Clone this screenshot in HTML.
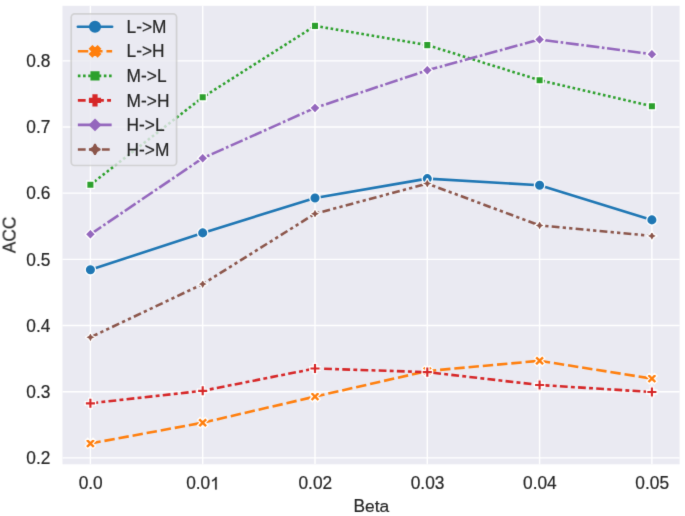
<!DOCTYPE html>
<html><head><meta charset="utf-8"><title>ACC vs Beta</title><style>html,body{margin:0;padding:0;background:#fff;overflow:hidden}svg{display:block}text{font-family:"Liberation Sans",sans-serif;stroke:#262626;stroke-width:0.2px}.g1{stroke:#262626;stroke-width:23.6px}</style></head><body>
<svg width="685" height="516" viewBox="0 0 685 516" font-family="Liberation Sans, sans-serif" font-size="17.33" fill="#262626">
<defs><clipPath id="ax"><rect x="62.5" y="5.8" width="617.1" height="458.5"/></clipPath>
<filter id="soft" x="0" y="0" width="685" height="516" filterUnits="userSpaceOnUse" color-interpolation-filters="sRGB"><feConvolveMatrix order="3" kernelMatrix="0.01 0.08 0.01 0.08 0.64 0.08 0.01 0.08 0.01" edgeMode="duplicate" preserveAlpha="true"/></filter></defs>
<g filter="url(#soft)">
<rect width="685" height="516" fill="#fff"/>
<rect x="62.5" y="5.8" width="617.1" height="458.5" fill="#eaeaf2"/>
<path d="M90.4 464.3V5.8M202.7 464.3V5.8M315 464.3V5.8M427.3 464.3V5.8M539.6 464.3V5.8M651.9 464.3V5.8M62.5 457.85H679.6M62.5 391.68H679.6M62.5 325.51H679.6M62.5 259.34H679.6M62.5 193.17H679.6M62.5 127H679.6M62.5 60.83H679.6" stroke="#fff" stroke-width="1.39" stroke-linecap="round" fill="none" clip-path="url(#ax)"/>
<path d="M90.4 269.8 L202.7 232.9 L315 197.95 L427.3 178.6 L539.6 185.2 L651.9 219.9" fill="none" stroke="#1f77b4" stroke-width="2.6" stroke-linecap="round" stroke-linejoin="round" clip-path="url(#ax)"/>
<circle cx="90.4" cy="269.8" r="5.2" fill="#1f77b4" stroke="#fff" stroke-width="1.3"/>
<circle cx="202.7" cy="232.9" r="5.2" fill="#1f77b4" stroke="#fff" stroke-width="1.3"/>
<circle cx="315" cy="197.95" r="5.2" fill="#1f77b4" stroke="#fff" stroke-width="1.3"/>
<circle cx="427.3" cy="178.6" r="5.2" fill="#1f77b4" stroke="#fff" stroke-width="1.3"/>
<circle cx="539.6" cy="185.2" r="5.2" fill="#1f77b4" stroke="#fff" stroke-width="1.3"/>
<circle cx="651.9" cy="219.9" r="5.2" fill="#1f77b4" stroke="#fff" stroke-width="1.3"/>
<path d="M90.4 443.45 L202.7 422.7 L315 396.6 L427.3 371 L539.6 360.8 L651.9 378.6" fill="none" stroke="#ff7f0e" stroke-width="2.6" stroke-linecap="butt" stroke-linejoin="round" stroke-dasharray="10.4,3.9" clip-path="url(#ax)"/>
<path d="M87.8 438.25 L90.4 440.85 L93 438.25 L95.6 440.85 L93 443.45 L95.6 446.05 L93 448.65 L90.4 446.05 L87.8 448.65 L85.2 446.05 L87.8 443.45 L85.2 440.85Z" fill="#ff7f0e" stroke="#fff" stroke-width="1.3" stroke-linejoin="miter"/>
<path d="M200.1 417.5 L202.7 420.1 L205.3 417.5 L207.9 420.1 L205.3 422.7 L207.9 425.3 L205.3 427.9 L202.7 425.3 L200.1 427.9 L197.5 425.3 L200.1 422.7 L197.5 420.1Z" fill="#ff7f0e" stroke="#fff" stroke-width="1.3" stroke-linejoin="miter"/>
<path d="M312.4 391.4 L315 394 L317.6 391.4 L320.2 394 L317.6 396.6 L320.2 399.2 L317.6 401.8 L315 399.2 L312.4 401.8 L309.8 399.2 L312.4 396.6 L309.8 394Z" fill="#ff7f0e" stroke="#fff" stroke-width="1.3" stroke-linejoin="miter"/>
<path d="M424.7 365.8 L427.3 368.4 L429.9 365.8 L432.5 368.4 L429.9 371 L432.5 373.6 L429.9 376.2 L427.3 373.6 L424.7 376.2 L422.1 373.6 L424.7 371 L422.1 368.4Z" fill="#ff7f0e" stroke="#fff" stroke-width="1.3" stroke-linejoin="miter"/>
<path d="M537 355.6 L539.6 358.2 L542.2 355.6 L544.8 358.2 L542.2 360.8 L544.8 363.4 L542.2 366 L539.6 363.4 L537 366 L534.4 363.4 L537 360.8 L534.4 358.2Z" fill="#ff7f0e" stroke="#fff" stroke-width="1.3" stroke-linejoin="miter"/>
<path d="M649.3 373.4 L651.9 376 L654.5 373.4 L657.1 376 L654.5 378.6 L657.1 381.2 L654.5 383.8 L651.9 381.2 L649.3 383.8 L646.7 381.2 L649.3 378.6 L646.7 376Z" fill="#ff7f0e" stroke="#fff" stroke-width="1.3" stroke-linejoin="miter"/>
<path d="M90.4 184.7 L202.7 97.3 L315 25.9 L427.3 45.1 L539.6 80.2 L651.9 106.2" fill="none" stroke="#2ca02c" stroke-width="2.6" stroke-linecap="butt" stroke-linejoin="round" stroke-dasharray="2.6,2.6" clip-path="url(#ax)"/>
<path d="M86.72 181.02 L94.08 181.02 L94.08 188.38 L86.72 188.38Z" fill="#2ca02c" stroke="#fff" stroke-width="1.3" stroke-linejoin="miter"/>
<path d="M199.02 93.62 L206.38 93.62 L206.38 100.98 L199.02 100.98Z" fill="#2ca02c" stroke="#fff" stroke-width="1.3" stroke-linejoin="miter"/>
<path d="M311.32 22.22 L318.68 22.22 L318.68 29.58 L311.32 29.58Z" fill="#2ca02c" stroke="#fff" stroke-width="1.3" stroke-linejoin="miter"/>
<path d="M423.62 41.42 L430.98 41.42 L430.98 48.78 L423.62 48.78Z" fill="#2ca02c" stroke="#fff" stroke-width="1.3" stroke-linejoin="miter"/>
<path d="M535.92 76.52 L543.28 76.52 L543.28 83.88 L535.92 83.88Z" fill="#2ca02c" stroke="#fff" stroke-width="1.3" stroke-linejoin="miter"/>
<path d="M648.22 102.52 L655.58 102.52 L655.58 109.88 L648.22 109.88Z" fill="#2ca02c" stroke="#fff" stroke-width="1.3" stroke-linejoin="miter"/>
<path d="M90.4 403.3 L202.7 390.8 L315 368.5 L427.3 372.1 L539.6 385 L651.9 392" fill="none" stroke="#d62728" stroke-width="2.6" stroke-linecap="butt" stroke-linejoin="round" stroke-dasharray="7.8,3.25,3.9,3.25" clip-path="url(#ax)"/>
<path d="M88.67 398.1 L92.13 398.1 L92.13 401.57 L95.6 401.57 L95.6 405.03 L92.13 405.03 L92.13 408.5 L88.67 408.5 L88.67 405.03 L85.2 405.03 L85.2 401.57 L88.67 401.57Z" fill="#d62728" stroke="#fff" stroke-width="1.3" stroke-linejoin="miter"/>
<path d="M200.97 385.6 L204.43 385.6 L204.43 389.07 L207.9 389.07 L207.9 392.53 L204.43 392.53 L204.43 396 L200.97 396 L200.97 392.53 L197.5 392.53 L197.5 389.07 L200.97 389.07Z" fill="#d62728" stroke="#fff" stroke-width="1.3" stroke-linejoin="miter"/>
<path d="M313.27 363.3 L316.73 363.3 L316.73 366.77 L320.2 366.77 L320.2 370.23 L316.73 370.23 L316.73 373.7 L313.27 373.7 L313.27 370.23 L309.8 370.23 L309.8 366.77 L313.27 366.77Z" fill="#d62728" stroke="#fff" stroke-width="1.3" stroke-linejoin="miter"/>
<path d="M425.57 366.9 L429.03 366.9 L429.03 370.37 L432.5 370.37 L432.5 373.83 L429.03 373.83 L429.03 377.3 L425.57 377.3 L425.57 373.83 L422.1 373.83 L422.1 370.37 L425.57 370.37Z" fill="#d62728" stroke="#fff" stroke-width="1.3" stroke-linejoin="miter"/>
<path d="M537.87 379.8 L541.33 379.8 L541.33 383.27 L544.8 383.27 L544.8 386.73 L541.33 386.73 L541.33 390.2 L537.87 390.2 L537.87 386.73 L534.4 386.73 L534.4 383.27 L537.87 383.27Z" fill="#d62728" stroke="#fff" stroke-width="1.3" stroke-linejoin="miter"/>
<path d="M650.17 386.8 L653.63 386.8 L653.63 390.27 L657.1 390.27 L657.1 393.73 L653.63 393.73 L653.63 397.2 L650.17 397.2 L650.17 393.73 L646.7 393.73 L646.7 390.27 L650.17 390.27Z" fill="#d62728" stroke="#fff" stroke-width="1.3" stroke-linejoin="miter"/>
<path d="M90.4 234.3 L202.7 158.2 L315 107.9 L427.3 70.3 L539.6 39.5 L651.9 54.2" fill="none" stroke="#9467bd" stroke-width="2.6" stroke-linecap="butt" stroke-linejoin="round" stroke-dasharray="13,2.6,2.6,2.6" clip-path="url(#ax)"/>
<path d="M90.4 229.1 L95.6 234.3 L90.4 239.5 L85.2 234.3Z" fill="#9467bd" stroke="#fff" stroke-width="1.3" stroke-linejoin="miter"/>
<path d="M202.7 153 L207.9 158.2 L202.7 163.4 L197.5 158.2Z" fill="#9467bd" stroke="#fff" stroke-width="1.3" stroke-linejoin="miter"/>
<path d="M315 102.7 L320.2 107.9 L315 113.1 L309.8 107.9Z" fill="#9467bd" stroke="#fff" stroke-width="1.3" stroke-linejoin="miter"/>
<path d="M427.3 65.1 L432.5 70.3 L427.3 75.5 L422.1 70.3Z" fill="#9467bd" stroke="#fff" stroke-width="1.3" stroke-linejoin="miter"/>
<path d="M539.6 34.3 L544.8 39.5 L539.6 44.7 L534.4 39.5Z" fill="#9467bd" stroke="#fff" stroke-width="1.3" stroke-linejoin="miter"/>
<path d="M651.9 49 L657.1 54.2 L651.9 59.4 L646.7 54.2Z" fill="#9467bd" stroke="#fff" stroke-width="1.3" stroke-linejoin="miter"/>
<path d="M90.4 337.3 L202.7 284.1 L315 213.7 L427.3 183.6 L539.6 225.4 L651.9 235.9" fill="none" stroke="#8c564b" stroke-width="2.6" stroke-linecap="butt" stroke-linejoin="round" stroke-dasharray="7.8,3.25,3.25,3.25,3.25,3.25" clip-path="url(#ax)"/>
<path d="M90.4 332.1 L88.56 335.46 L85.2 337.3 L88.56 339.14 L90.4 342.5 L92.24 339.14 L95.6 337.3 L92.24 335.46Z" fill="#8c564b" stroke="#fff" stroke-width="1.3" stroke-linejoin="bevel"/>
<path d="M202.7 278.9 L200.86 282.26 L197.5 284.1 L200.86 285.94 L202.7 289.3 L204.54 285.94 L207.9 284.1 L204.54 282.26Z" fill="#8c564b" stroke="#fff" stroke-width="1.3" stroke-linejoin="bevel"/>
<path d="M315 208.5 L313.16 211.86 L309.8 213.7 L313.16 215.54 L315 218.9 L316.84 215.54 L320.2 213.7 L316.84 211.86Z" fill="#8c564b" stroke="#fff" stroke-width="1.3" stroke-linejoin="bevel"/>
<path d="M427.3 178.4 L425.46 181.76 L422.1 183.6 L425.46 185.44 L427.3 188.8 L429.14 185.44 L432.5 183.6 L429.14 181.76Z" fill="#8c564b" stroke="#fff" stroke-width="1.3" stroke-linejoin="bevel"/>
<path d="M539.6 220.2 L537.76 223.56 L534.4 225.4 L537.76 227.24 L539.6 230.6 L541.44 227.24 L544.8 225.4 L541.44 223.56Z" fill="#8c564b" stroke="#fff" stroke-width="1.3" stroke-linejoin="bevel"/>
<path d="M651.9 230.7 L650.06 234.06 L646.7 235.9 L650.06 237.74 L651.9 241.1 L653.74 237.74 L657.1 235.9 L653.74 234.06Z" fill="#8c564b" stroke="#fff" stroke-width="1.3" stroke-linejoin="bevel"/>
<rect x="71.2" y="13.8" width="105.4" height="151.7" rx="3.47" fill="#eaeaf2" stroke="#cccccc" stroke-width="1.73" opacity="0.8"/>
<path d="M77.85 26.78H112.15" fill="none" stroke="#1f77b4" stroke-width="2.6" stroke-linecap="round"/>
<circle cx="95" cy="26.78" r="5.2" fill="#1f77b4" stroke="#1f77b4" stroke-width="1.73"/>
<text transform="translate(126.6 32.75) scale(1 1.0405)">L-&gt;M</text>
<path d="M77.85 51.31H112.15" fill="none" stroke="#ff7f0e" stroke-width="2.6" stroke-linecap="butt" stroke-dasharray="10.4,3.9"/>
<path d="M92.4 46.11 L95 48.71 L97.6 46.11 L100.2 48.71 L97.6 51.31 L100.2 53.91 L97.6 56.51 L95 53.91 L92.4 56.51 L89.8 53.91 L92.4 51.31 L89.8 48.71Z" fill="#ff7f0e" stroke="#ff7f0e" stroke-width="1.73" stroke-linejoin="miter"/>
<text transform="translate(126.6 57.35) scale(1 1.0405)">L-&gt;H</text>
<path d="M77.85 75.84H112.15" fill="none" stroke="#2ca02c" stroke-width="2.6" stroke-linecap="butt" stroke-dasharray="2.6,2.6"/>
<path d="M91.32 72.16 L98.68 72.16 L98.68 79.52 L91.32 79.52Z" fill="#2ca02c" stroke="#2ca02c" stroke-width="1.73" stroke-linejoin="miter"/>
<text transform="translate(126.6 81.95) scale(1 1.0405)">M-&gt;L</text>
<path d="M77.85 100.37H112.15" fill="none" stroke="#d62728" stroke-width="2.6" stroke-linecap="butt" stroke-dasharray="7.8,3.25,3.9,3.25"/>
<path d="M93.27 95.17 L96.73 95.17 L96.73 98.64 L100.2 98.64 L100.2 102.1 L96.73 102.1 L96.73 105.57 L93.27 105.57 L93.27 102.1 L89.8 102.1 L89.8 98.64 L93.27 98.64Z" fill="#d62728" stroke="#d62728" stroke-width="1.73" stroke-linejoin="miter"/>
<text transform="translate(126.6 106.55) scale(1 1.0405)">M-&gt;H</text>
<path d="M77.85 124.9H112.15" fill="none" stroke="#9467bd" stroke-width="2.6" stroke-linecap="butt" stroke-dasharray="13,2.6,2.6,2.6"/>
<path d="M95 119.7 L100.2 124.9 L95 130.1 L89.8 124.9Z" fill="#9467bd" stroke="#9467bd" stroke-width="1.73" stroke-linejoin="miter"/>
<text transform="translate(126.6 131.15) scale(1 1.0405)">H-&gt;L</text>
<path d="M77.85 149.43H112.15" fill="none" stroke="#8c564b" stroke-width="2.6" stroke-linecap="butt" stroke-dasharray="7.8,3.25,3.25,3.25,3.25,3.25"/>
<path d="M95 144.23 L93.16 147.59 L89.8 149.43 L93.16 151.27 L95 154.63 L96.84 151.27 L100.2 149.43 L96.84 147.59Z" fill="#8c564b" stroke="#8c564b" stroke-width="1.73" stroke-linejoin="bevel"/>
<text transform="translate(126.6 155.75) scale(1 1.0405)">H-&gt;M</text>
<text transform="translate(90.7 489.45) scale(1 1.0405)" text-anchor="middle">0.0</text>
<text transform="translate(186.13 489.45) scale(1 1.0405)">0.0</text>
<path transform="translate(210.23 489.45) scale(0.008464 -0.008464)" d="M763 0H583V1147Q518 1085 412.5 1023Q307 961 223 930V1104Q374 1175 487 1274Q600 1373 647 1466H763Z" class="g1"/>
<text transform="translate(315.3 489.45) scale(1 1.0405)" text-anchor="middle">0.02</text>
<text transform="translate(427.6 489.45) scale(1 1.0405)" text-anchor="middle">0.03</text>
<text transform="translate(539.9 489.45) scale(1 1.0405)" text-anchor="middle">0.04</text>
<text transform="translate(652.2 489.45) scale(1 1.0405)" text-anchor="middle">0.05</text>
<text transform="translate(50.45 464.13) scale(1 1.0405)" text-anchor="end">0.2</text>
<text transform="translate(50.45 397.96) scale(1 1.0405)" text-anchor="end">0.3</text>
<text transform="translate(50.45 331.79) scale(1 1.0405)" text-anchor="end">0.4</text>
<text transform="translate(50.45 265.62) scale(1 1.0405)" text-anchor="end">0.5</text>
<text transform="translate(50.45 199.45) scale(1 1.0405)" text-anchor="end">0.6</text>
<text transform="translate(50.45 133.28) scale(1 1.0405)" text-anchor="end">0.7</text>
<text transform="translate(50.45 67.11) scale(1 1.0405)" text-anchor="end">0.8</text>
<text transform="translate(353.47 512.35) scale(1 1.0405)">B</text>
<text transform="translate(365.03 512.35)">eta</text>
<text transform="translate(15.2 234.9) rotate(-90) scale(1 1.0405)" text-anchor="middle">ACC</text>
</g>
</svg>
</body></html>
